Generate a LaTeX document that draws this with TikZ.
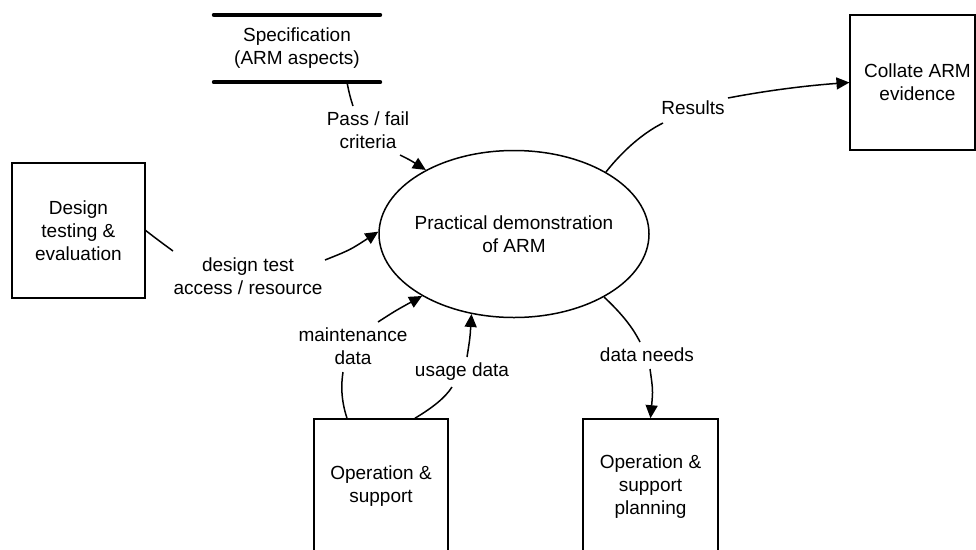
\documentclass[tikz,border=0pt]{standalone}
\usepackage{fontspec}
\setmainfont{Liberation Sans}
\usetikzlibrary{arrows.meta,shapes.geometric}
\begin{document}
\begin{tikzpicture}[x=1pt,y=-1pt,
  every node/.style={font=\fontsize{19}{23}\selectfont, align=center},
  proc/.style={draw, line width=1.6pt, minimum width=134pt, minimum height=135pt, inner sep=0pt},
  flow/.style={line width=1.5pt},
  flowarr/.style={line width=1.5pt, -{Triangle[length=13pt,width=12pt]}},
  lbl/.style={inner sep=1pt}
]
\useasboundingbox (0,0) rectangle (976,549);

% processes / entities
\node[proc, minimum width=133pt] (dte) at (78.4,230.5) {Design\\testing \&\\evaluation};
\node[proc, minimum width=124.5pt] (col) at (912.5,82.5) {};
\node (coltext) at (917.5,82.5) {Collate ARM\\evidence};
\node[proc] (ops) at (381,486.5) {Operation \&\\support};
\node[proc, minimum width=135pt] (plan) at (650.5,486.5) {Operation \&\\support\\planning};

% data store
\node[minimum width=166pt, minimum height=67pt, inner sep=0pt] (spec) at (297,48.5) {Specification\\(ARM aspects)};
\draw[line width=4pt, line cap=round] (spec.north west) -- (spec.north east);
\draw[line width=4pt, line cap=round] (spec.south west) -- (spec.south east);

% central process
\node[draw, ellipse, line width=1.5pt, minimum width=270pt, minimum height=167pt, inner sep=0pt] (ell) at (514,234) {};
\node (elltext) at (ell.center) {Practical demonstration\\of ARM};

% labels
\node[lbl] (pflbl) at (368,130.5) {Pass / fail\\criteria};
\node[lbl] (dtlbl) at (248,276) {design test\\access / resource};
\node[lbl] (rslbl) at (693,108) {Results};
\node[lbl] (mdlbl) at (353,346) {maintenance\\data};
\node[lbl] (udlbl) at (462,372) {usage data};
\node[lbl] (dnlbl) at (647,355) {data needs};

% gap end coordinates
\coordinate (pf1) at (353,106);
\coordinate (pf2) at (400,155);
\coordinate (dt1) at (173,251);
\coordinate (dt2) at (325,260);
\coordinate (rs1) at (663,123);
\coordinate (rs2) at (728,98);
\coordinate (md1) at (343,372);
\coordinate (md2) at (378,322);
\coordinate (ud1) at (452,387);
\coordinate (ud2) at (467,357);
\coordinate (dn1) at (640,342);
\coordinate (dn2) at (650,369);

% connectors
\draw[flow] ([xshift=50pt]spec.south) .. controls (349,93) and (351,100) .. (pf1);
\draw[flowarr] (pf2) .. controls (410,160) .. (ell.144.5);

\draw[flow] (dte.east) .. controls (158,240) .. (dt1);
\draw[flowarr] (dt2) .. controls (350,250) .. (ell.179);

\draw[flow] (ell.34.3) .. controls (625,148) and (645,132) .. (rs1);
\draw[flowarr] (rs2) .. controls (775,89) and (815,85) .. (col.west);

\draw[flow] ([xshift=-34pt]ops.north) .. controls (341,400) and (341,385) .. (md1);
\draw[flowarr] (md2) .. controls (395,311) .. (ell.214.7);

\draw[flow] ([xshift=34pt]ops.north) .. controls (432,408) and (445,398) .. (ud1);
\draw[flowarr] (ud2) .. controls (470,338) .. (ell.242.6);

\draw[flow] (ell.325.3) .. controls (620,312) and (632,326) .. (dn1);
\draw[flowarr] (dn2) .. controls (653,390) .. (plan.north);
\end{tikzpicture}
\end{document}
